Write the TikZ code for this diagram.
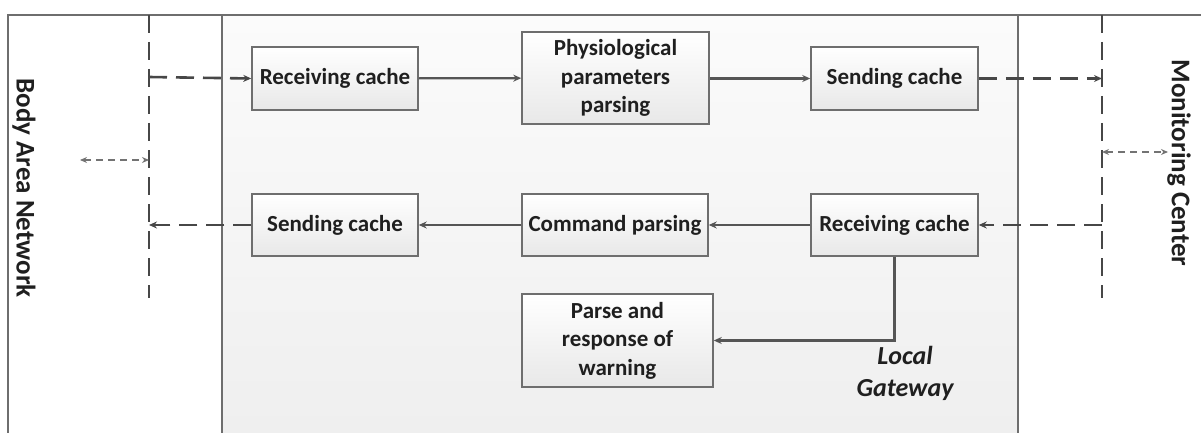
\documentclass[tikz,border=0pt]{standalone}
\usepackage{fontspec}
\setmainfont{Carlito}
\usetikzlibrary{arrows.meta}
\definecolor{edgegray}{HTML}{6E6E6E}
\definecolor{arrowgray}{HTML}{555555}
\definecolor{paneltop}{HTML}{FBFBFB}
\definecolor{panelbottom}{HTML}{EFEFEF}
\begin{document}
\begin{tikzpicture}[x=1pt,y=-1pt,
  every node/.style={font=\fontsize{23}{28.5}\selectfont\bfseries, text=black!88},
  procbox/.style={draw=edgegray, line width=1.5pt, top color=white, bottom color=black!9,
    align=center, inner sep=0pt},
  flow/.style={draw=arrowgray, line width=2.2pt, -{Stealth[length=8pt,width=7pt]}},
  link/.style={draw=black!72, line width=2.6pt, dash pattern=on 18pt off 9pt},
  linkarrow/.style={link, -{Stealth[length=8pt,width=7pt]}},
  thinlink/.style={draw=black!55, line width=1.5pt, dash pattern=on 7pt off 5pt,
    {Stealth[length=7pt,width=6pt]}-{Stealth[length=7pt,width=6pt]}},
  sidelabel/.style={rotate=-90, font=\fontsize{27}{32}\selectfont\bfseries}]
\useasboundingbox (0,0) rectangle (1201,433);

% outer frame (left and top edges)
\draw[edgegray, line width=2pt] (8,433) -- (8,15) -- (1201,15);

% local gateway panel
\shade[top color=paneltop, bottom color=panelbottom] (222,15) rectangle (1018,433);
\draw[edgegray, line width=1.5pt] (222,433) -- (222,15) -- (1018,15) -- (1018,433);

% processing blocks
\node[procbox, minimum width=166pt, minimum height=63pt] (rc1) at (335,78.5) {Receiving cache};
\node[procbox, minimum width=187pt, minimum height=92pt] (pp) at (615.5,78) {Physiological\\parameters\\parsing};
\node[procbox, minimum width=167pt, minimum height=63pt] (sc1) at (894.5,78.5) {Sending cache};
\node[procbox, minimum width=166pt, minimum height=62pt] (sc2) at (335,225) {Sending cache};
\node[procbox, minimum width=186pt, minimum height=62pt] (cp) at (615,225) {Command parsing};
\node[procbox, minimum width=167pt, minimum height=62pt] (rc2) at (894.5,225) {Receiving cache};
\node[procbox, minimum width=191pt, minimum height=93pt] (pr) at (617.5,340.5) {Parse and\\response of\\warning};

\node[font=\fontsize{26}{32}\selectfont\bfseries\itshape, align=center] (lg) at (905,373) {Local\\Gateway};

% internal data flow
\draw[flow] (rc1) -- (pp);
\draw[flow] (pp.east |- sc1.west) -- (sc1);
\draw[flow] (rc2) -- (cp);
\draw[flow] (cp) -- (sc2);
\draw[flow] (rc2.south) |- (pr.east);

% network boundaries
\coordinate (lt) at (149,15);
\coordinate (lb) at (149,298);
\coordinate (rt) at (1102,15);
\coordinate (rb) at (1102,298);
\draw[link] (lt) -- (lb);
\draw[link] (rt) -- (rb);

\draw[linkarrow] (lt |- 0,77) -- (rc1.west);
\draw[linkarrow] (sc2.west) -- (sc2.west -| lt);
\draw[linkarrow] (sc1.east) -- (sc1.east -| rt);
\draw[linkarrow] (rc2.east -| rt) -- (rc2.east);

% external links
\coordinate (banlink) at (80,160);
\coordinate (mclink) at (1168,152);
\draw[thinlink] (banlink) -- (banlink -| lt);
\draw[thinlink] (mclink -| rt) -- (mclink);

\node[sidelabel] (ban) at (24,188) {Body Area Network};
\node[sidelabel] (mc) at (1179,163) {Monitoring Center};
\end{tikzpicture}
\end{document}
